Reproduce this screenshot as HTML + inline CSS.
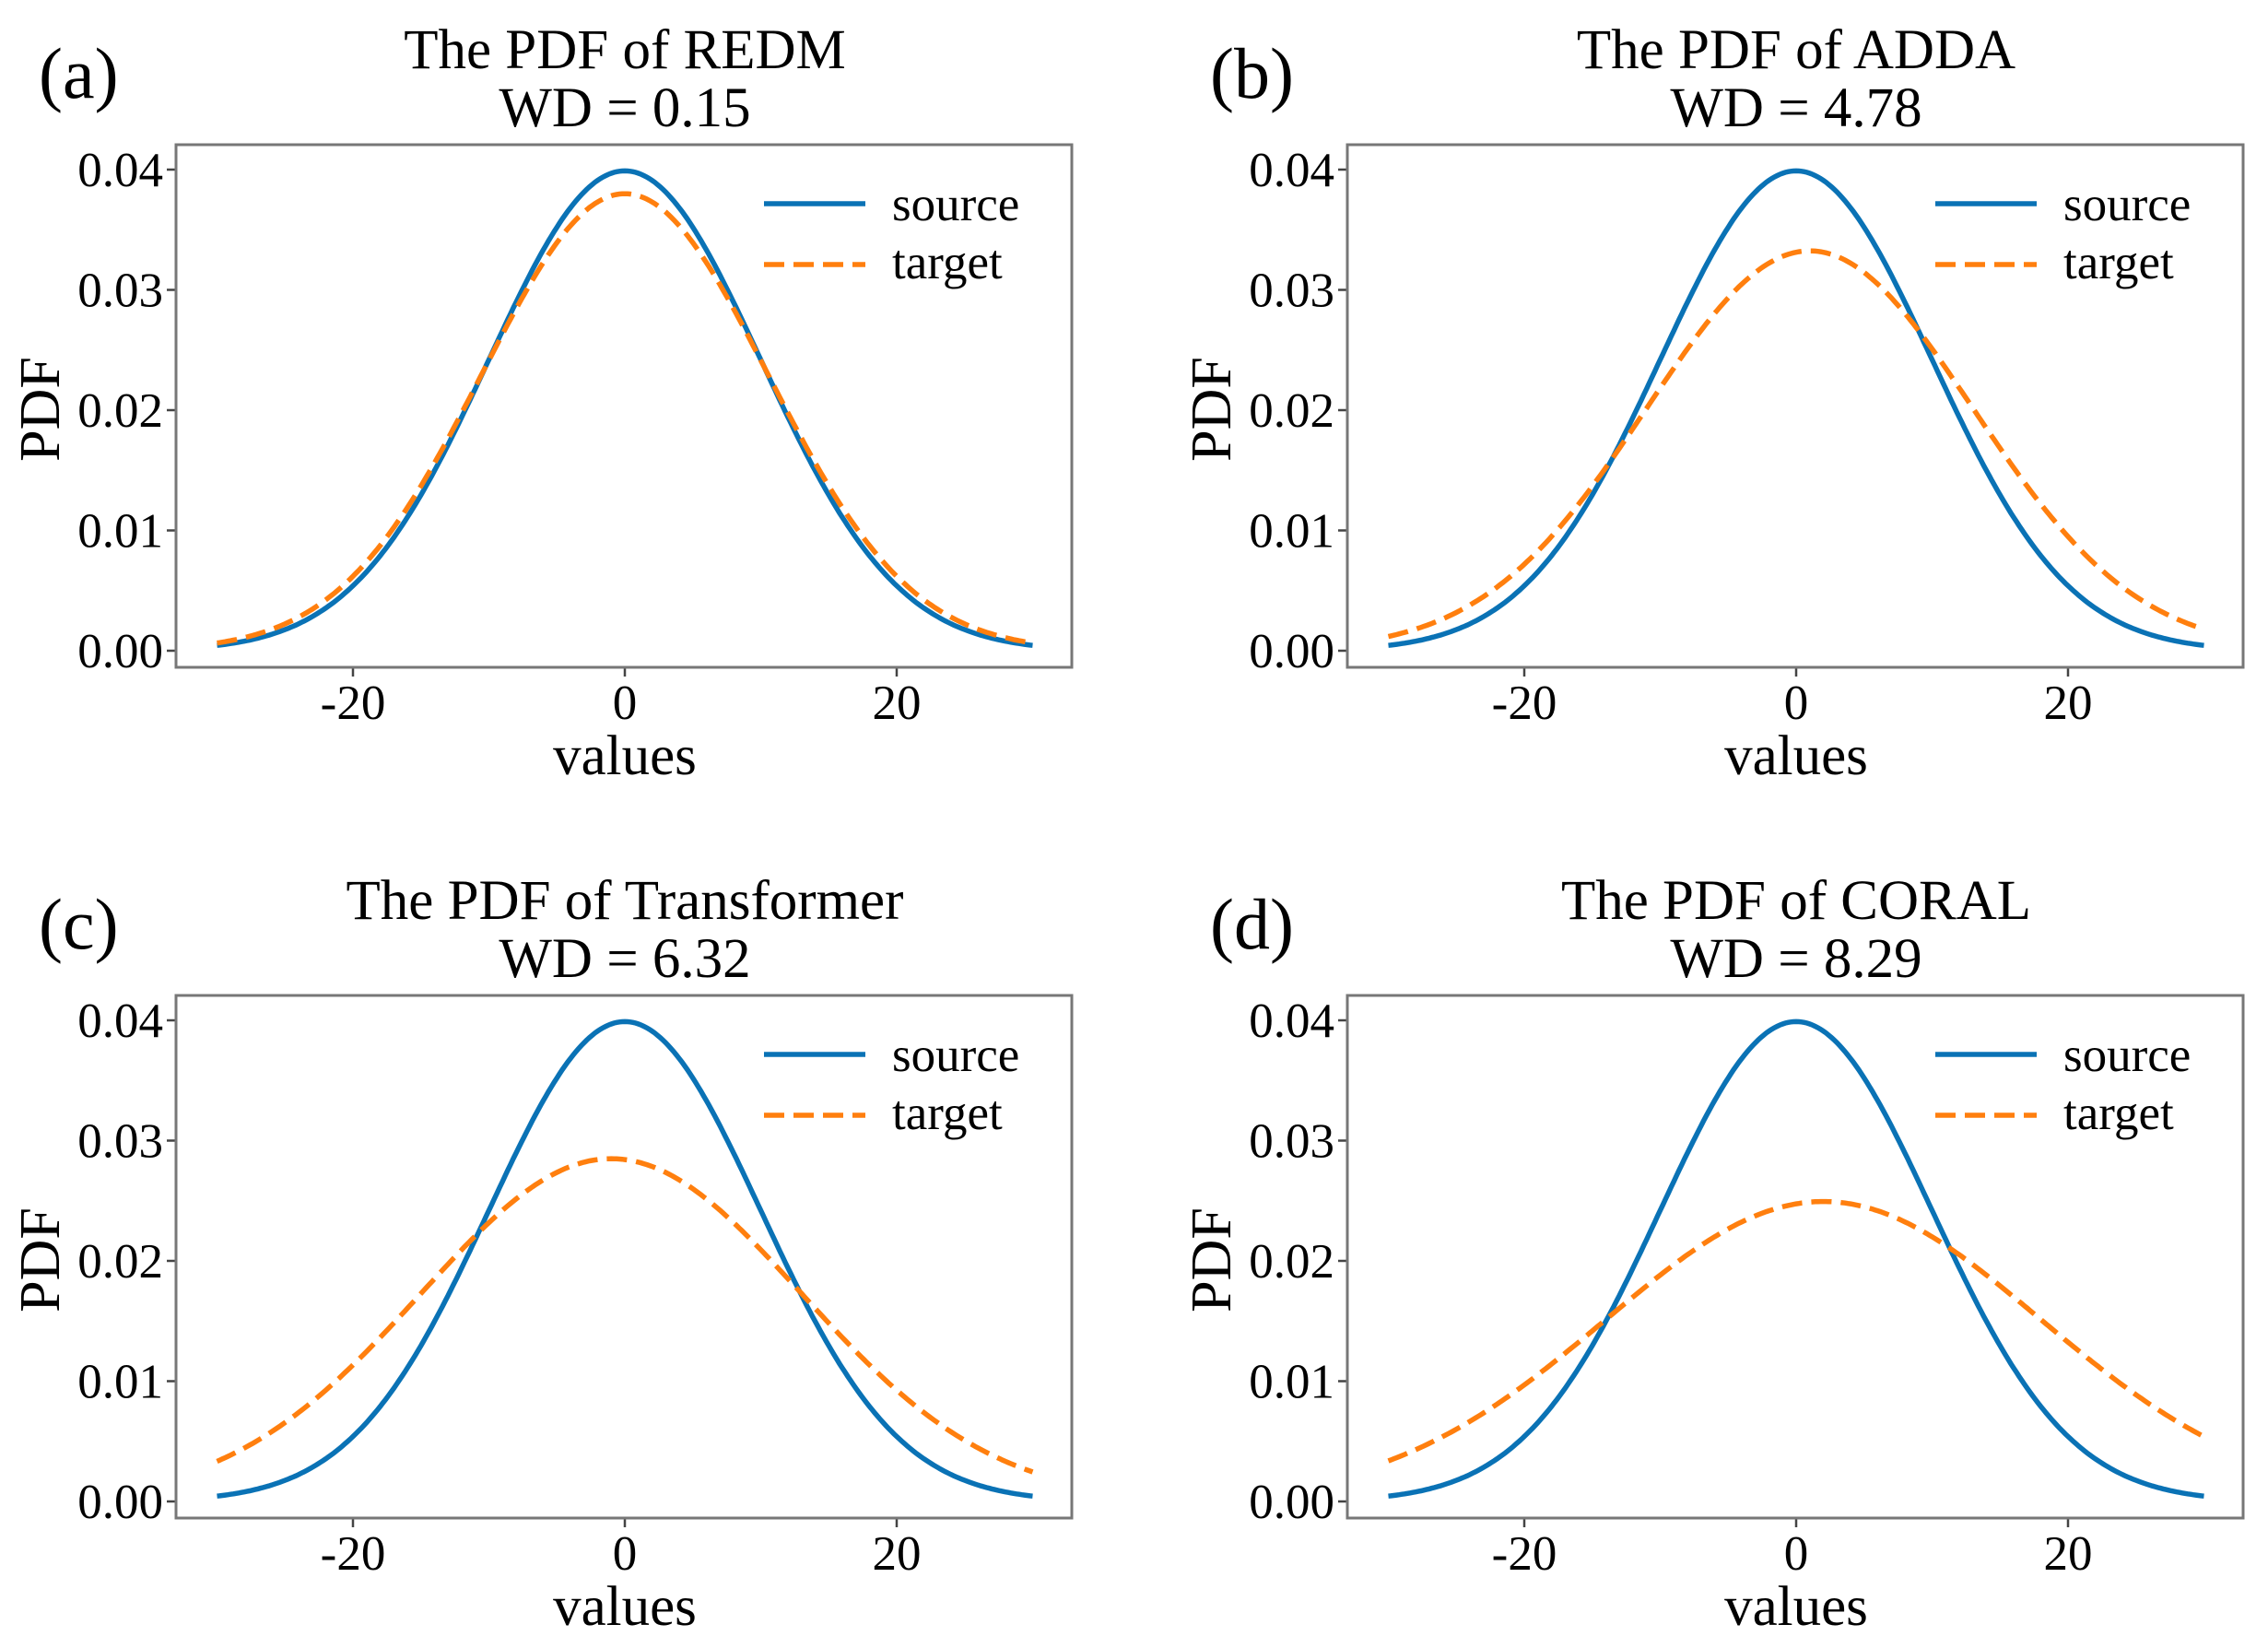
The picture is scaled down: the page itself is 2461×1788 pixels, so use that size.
<!DOCTYPE html>
<html><head><meta charset="utf-8">
<style>
html,body{margin:0;padding:0;background:#fff;}
svg{display:block;font-family:"Liberation Serif",serif;}
</style></head>
<body>
<svg id="fig" width="2461" height="1788" viewBox="0 0 2461 1788" xmlns="http://www.w3.org/2000/svg"></svg>
<script>
const panelLetters = ["(a)", "(b)", "(c)", "(d)"];
const panelTitles = ["The PDF of REDM", "The PDF of ADDA", "The PDF of Transformer", "The PDF of CORAL"];
const wdValues = ["0.15", "4.78", "6.32", "8.29"];
const sourceMean = [0, 0, 0, 0];
const sourceStd = [10, 10, 10, 10];
const targetMean = [0, 1, -1, 2];
const targetStd = [10.5, 12, 14, 16];
const xTicks = [-20, 0, 20];
const xTickLabels = ["-20", "0", "20"];
const yTicks = [0, 0.01, 0.02, 0.03, 0.04];
const yTickLabels = ["0.00", "0.01", "0.02", "0.03", "0.04"];
const xMin = -30, xMax = 30;

const NS = "http://www.w3.org/2000/svg";
const svg = document.getElementById("fig");
function mk(tag, attrs, parent, text){
  const e = document.createElementNS(NS, tag);
  for (const k in attrs) e.setAttribute(k, attrs[k]);
  if (text !== undefined) e.textContent = text;
  parent.appendChild(e);
  return e;
}
function pdf(x, m, s){ return Math.exp(-0.5*((x-m)/s)**2)/(s*Math.sqrt(2*Math.PI)); }

const offX = [0, 1271, 0, 1271], offY = [0, 0, 923, 923];
for (let p = 0; p < 4; p++){
  const g = mk("g", {transform:`translate(${offX[p]},${offY[p]})`}, svg);
  
  
  const L = 191, R = 1163, T = 157, B = 724;
  const x0 = 678, xs = 295/20;
  const y0 = 706, ys = (706-184)/0.04;
  const X = v => x0 + v*xs;
  const Y = v => y0 - v*ys;

  let t = mk("text", {x:42, y:106, "font-size":78}, g, panelLetters[p]);
  
  
  t = mk("text", {x:678, y:74, "font-size":61, "text-anchor":"middle"}, g, panelTitles[p]);
  
  
  t = mk("text", {x:678, y:137, "font-size":61, "text-anchor":"middle"}, g, "WD = " + wdValues[p]);
  
  

  xTicks.forEach((v,i)=>{
    let l = mk("line", {x1:X(v), x2:X(v), y1:B, y2:B+10, stroke:"#444", "stroke-width":2.5}, g);
    
    
    let tx = mk("text", {x:X(v), y:780, "font-size":53, "text-anchor":"middle"}, g, xTickLabels[i]);
    
    
  });
  yTicks.forEach((v,i)=>{
    let l = mk("line", {x1:L-10, x2:L, y1:Y(v), y2:Y(v), stroke:"#444", "stroke-width":2.5}, g);
    
    
    let tx = mk("text", {x:177, y:Y(v)+18, "font-size":53, "text-anchor":"end"}, g, yTickLabels[i]);
    
    
  });
  t = mk("text", {x:678, y:840, "font-size":61, "text-anchor":"middle"}, g, "values");
  
  
  t = mk("text", {x:0, y:0, "font-size":62, "text-anchor":"middle", transform:"translate(64,444) rotate(-90)"}, g, "PDF");
  
  

  const N = 300;
  let ds = "", dt = "";
  for (let i = 0; i <= N; i++){
    const x = xMin + (xMax-xMin)*i/N;
    ds += (i?"L":"M") + X(x).toFixed(1) + "," + Y(pdf(x, sourceMean[p], sourceStd[p])).toFixed(1);
    dt += (i?"L":"M") + X(x).toFixed(1) + "," + Y(pdf(x, targetMean[p], targetStd[p])).toFixed(1);
  }
  let c = mk("path", {d:ds, fill:"none", stroke:"#0a72b5", "stroke-width":5.5}, g);
  
  
  c = mk("path", {d:dt, fill:"none", stroke:"#ff7f0e", "stroke-width":5.5, "stroke-dasharray":"22,10"}, g);
  
  

  let f = mk("rect", {x:L, y:T, width:R-L, height:B-T, fill:"none", stroke:"#777", "stroke-width":3}, g);
  
  

  const lg = mk("g", {}, g);
  
  
  let e = mk("line", {x1:829, x2:939, y1:221, y2:221, stroke:"#0a72b5", "stroke-width":5.5}, lg);
  
  
  e = mk("text", {x:968, y:239, "font-size":53}, lg, "source");
  
  
  e = mk("line", {x1:829, x2:939, y1:287, y2:287, stroke:"#ff7f0e", "stroke-width":5.5, "stroke-dasharray":"22,10"}, lg);
  
  
  e = mk("text", {x:968, y:302, "font-size":53}, lg, "target");
  
  
}
</script>
</body></html>
